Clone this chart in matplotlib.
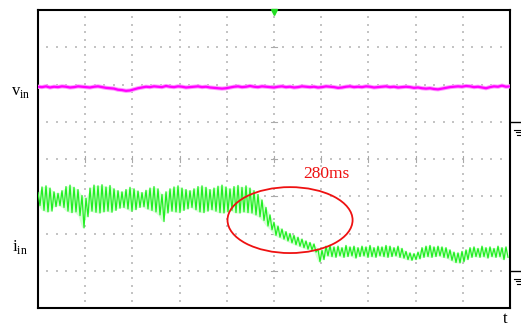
import numpy as np
import matplotlib
matplotlib.use('Agg')
import matplotlib.pyplot as plt
from matplotlib.patches import Ellipse
from matplotlib.lines import Line2D

plt.rcParams['font.family'] = ['Liberation Serif', 'DejaVu Serif']
plt.rcParams['mathtext.fontset'] = 'custom'
plt.rcParams['mathtext.rm'] = 'Liberation Serif'

# screen: 10 x 8 divisions, traces in divisions above their own ground marker
n_xdiv, n_ydiv = 10, 8
vin_ground = 5
iin_ground = 1

# v_in trace (magenta), one sample every ~0.085 div
vin = [0.94, 0.93, 0.95, 0.92, 0.94, 0.93, 0.95, 0.94, 0.92, 0.93,
       0.95, 0.94, 0.93, 0.92, 0.94, 0.95, 0.93, 0.91, 0.90, 0.89,
       0.86, 0.85, 0.83, 0.84, 0.87, 0.90, 0.92, 0.94, 0.93, 0.95,
       0.94, 0.93, 0.96, 0.94, 0.93, 0.95, 0.94, 0.92, 0.93, 0.94,
       0.95, 0.93, 0.94, 0.92, 0.91, 0.90, 0.89, 0.90, 0.92, 0.94,
       0.95, 0.93, 0.94, 0.96, 0.94, 0.93, 0.95, 0.94, 0.93, 0.92,
       0.94, 0.95, 0.93, 0.94, 0.92, 0.93, 0.95, 0.94, 0.93, 0.94,
       0.92, 0.93, 0.95, 0.94, 0.93, 0.91, 0.92, 0.94, 0.95, 0.93,
       0.94, 0.93, 0.95, 0.94, 0.92, 0.93, 0.94, 0.95, 0.93, 0.94,
       0.92, 0.93, 0.94, 0.93, 0.91, 0.92, 0.90, 0.89, 0.90, 0.88,
       0.87, 0.89, 0.91, 0.93, 0.94, 0.95, 0.94, 0.96, 0.95, 0.93,
       0.94, 0.92, 0.90, 0.93, 0.95, 0.94, 0.97, 0.94, 0.95]

# i_in ripple (green): peak and trough of each ripple cycle
iin_peak = [2.10, 2.25, 2.28, 2.22, 2.12, 2.08, 2.15, 2.26, 2.30, 2.24,
            2.18, 2.02, 1.95, 2.22, 2.30, 2.28, 2.31, 2.25, 2.29, 2.20,
            2.15, 2.12, 2.18, 2.24, 2.20, 2.14, 2.10, 2.16, 2.22, 2.26,
            2.20, 2.05, 2.12, 2.20, 2.25, 2.28, 2.22, 2.18, 2.15, 2.20,
            2.26, 2.28, 2.24, 2.18, 2.22, 2.27, 2.30, 2.25, 2.20, 2.26,
            2.29, 2.24, 2.28, 2.22, 2.15, 2.05, 1.90, 1.70, 1.50, 1.30,
            1.20, 1.12, 1.05, 1.00, 0.95, 0.90, 0.85, 0.80, 0.76, 0.72,
            0.58, 0.55, 0.66, 0.68, 0.64, 0.66, 0.62, 0.68, 0.64, 0.66,
            0.62, 0.66, 0.64, 0.68, 0.62, 0.66, 0.64, 0.68, 0.66, 0.62,
            0.66, 0.60, 0.52, 0.48, 0.46, 0.50, 0.62, 0.66, 0.68, 0.64,
            0.66, 0.64, 0.62, 0.56, 0.50, 0.48, 0.52, 0.56, 0.62, 0.64,
            0.60, 0.66, 0.62, 0.64, 0.60, 0.66, 0.62, 0.64]
iin_trough = [1.75, 1.62, 1.58, 1.60, 1.72, 1.75, 1.70, 1.60, 1.56, 1.58,
              1.48, 1.15, 1.45, 1.60, 1.57, 1.55, 1.58, 1.60, 1.57, 1.62,
              1.68, 1.70, 1.66, 1.60, 1.64, 1.70, 1.72, 1.66, 1.62, 1.58,
              1.50, 1.32, 1.55, 1.60, 1.58, 1.56, 1.62, 1.66, 1.70, 1.64,
              1.58, 1.56, 1.60, 1.64, 1.60, 1.56, 1.55, 1.58, 1.62, 1.56,
              1.55, 1.58, 1.56, 1.55, 1.50, 1.45, 1.35, 1.20, 1.10, 0.95,
              0.90, 0.85, 0.80, 0.75, 0.70, 0.66, 0.62, 0.58, 0.56, 0.50,
              0.24, 0.30, 0.40, 0.38, 0.36, 0.40, 0.36, 0.38, 0.40, 0.34,
              0.38, 0.40, 0.36, 0.38, 0.36, 0.40, 0.38, 0.36, 0.38, 0.40,
              0.36, 0.34, 0.30, 0.28, 0.30, 0.32, 0.36, 0.38, 0.36, 0.38,
              0.40, 0.36, 0.34, 0.28, 0.22, 0.21, 0.24, 0.30, 0.36, 0.38,
              0.36, 0.38, 0.34, 0.38, 0.36, 0.38, 0.30, 0.36]

W, H = 521, 327
fig = plt.figure(figsize=(W / 100, H / 100), dpi=100)
ax = fig.add_axes([38 / W, 19 / H, 472 / W, 298 / H])
ax.set_xlim(0, n_xdiv)
ax.set_ylim(0, n_ydiv)
ax.set_xticks([])
ax.set_yticks([])
for s in ax.spines.values():
    s.set_linewidth(1.5)
    s.set_color('black')

# dotted graticule
dot = dict(s=1.4, marker='s', color='#c4c4c4', linewidths=0, zorder=1)
xs = np.arange(0.2, n_xdiv, 0.2)
ys = np.arange(0.2, n_ydiv, 0.2)
for gy in range(1, n_ydiv):
    ax.scatter(xs, np.full_like(xs, gy), **dot)
for gx in range(1, n_xdiv):
    ax.scatter(np.full_like(ys, gx), ys, **dot)
# tick marks on the centre cross
for gy in range(1, n_ydiv):
    ax.plot([4.94, 5.06], [gy, gy], color='#aaaaaa', lw=0.8, zorder=1)
for gx in range(1, n_xdiv):
    ax.plot([gx, gx], [3.93, 4.07], color='#aaaaaa', lw=0.8, zorder=1)

# traces
t_vin = np.linspace(0, n_xdiv, len(vin))
ax.plot(t_vin, np.array(vin) + vin_ground, color='#ff99ff', lw=3.0, zorder=3)
ax.plot(t_vin, np.array(vin) + vin_ground, color='#ff00ff', lw=1.6, zorder=3)

n_cyc = len(iin_peak)
dt = n_xdiv / n_cyc
t_peak = np.arange(n_cyc) * dt
t_i = np.empty(2 * n_cyc)
t_i[0::2] = t_peak
t_i[1::2] = t_peak + 0.5 * dt
y_i = np.empty(2 * n_cyc)
y_i[0::2] = iin_peak
y_i[1::2] = iin_trough
ax.fill_between(t_peak, np.array(iin_trough) + iin_ground, np.array(iin_peak) + iin_ground,
                color='#d6ffd6', lw=0, zorder=2)
ax.plot(t_i, y_i + iin_ground, color='#22ee22', lw=0.9, zorder=3)

# annotation
ax.add_patch(Ellipse((5.34, 2.36), 2.65, 1.77, fill=False, edgecolor='#ee1111', lw=1.3, zorder=4))
ax.text(6.1, 3.6, '280ms', color='#ee1111', fontsize=12.5, ha='center', va='center')

# trigger marker
ax.plot([5], [n_ydiv - 0.06], marker='v', color='#22dd22', ms=5, clip_on=False, zorder=5)

# channel labels
fig.text(21 / W, 1 - 92 / H, r'$\mathrm{v}_{\mathrm{in}}$', fontsize=12, ha='center', va='center')
fig.text(20 / W, 1 - 247 / H, r'$\mathrm{i}_{\mathrm{in}}$', fontsize=12, ha='center', va='center')
fig.text(505 / W, 1 - 319 / H, 't', fontsize=12, ha='center', va='center')

# ground markers on the right edge
for g in (vin_ground, iin_ground):
    py = 10 + (n_ydiv - g) * 37.25
    fig.add_artist(Line2D([510 / W, 1], [1 - py / H] * 2, color='black', lw=1.0))
    for k, x0 in enumerate((514, 515.5, 517)):
        yy = 1 - (py + 8 + 2.5 * k) / H
        fig.add_artist(Line2D([x0 / W, 1], [yy, yy], color='black', lw=0.8))

fig.savefig('out.png', dpi=100)
